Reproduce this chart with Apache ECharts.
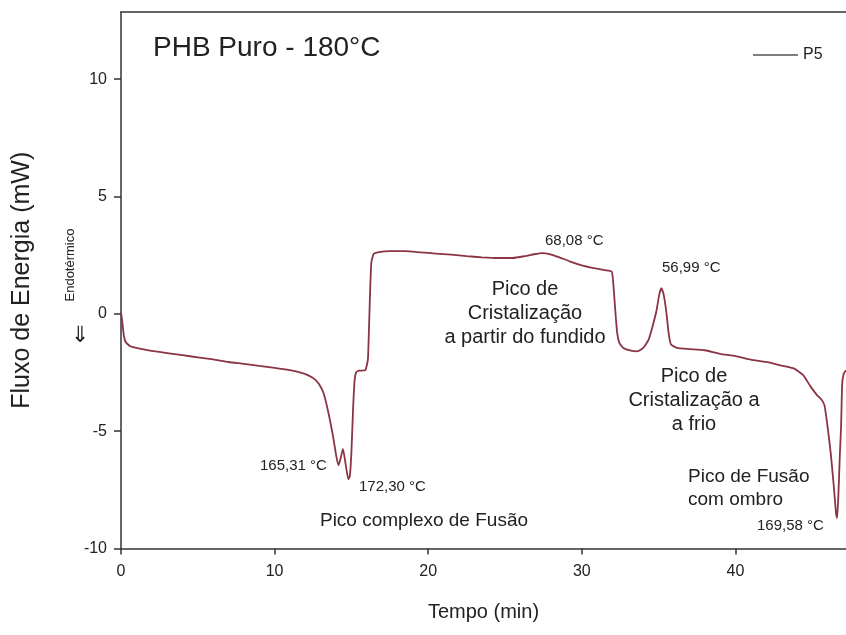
<!DOCTYPE html>
<html>
<head>
<meta charset="utf-8">
<script src="https://cdn.jsdelivr.net/npm/echarts@6/dist/echarts.min.js"></script>
<style>html,body{margin:0;padding:0;background:#fff}#c{width:846px;height:635px}</style>
</head>
<body>
<div id="c"></div>
<script>
// Time (min)
const time = [0.00,0.08,0.18,0.30,0.60,1.0,2.0,3.0,4.0,5.0,6.0,7.0,8.0,9.0,10.0,11.0,11.7,12.2,12.6,12.9,13.2,13.5,13.8,14.0,14.15,14.28,14.45,14.6,14.8,14.9,15.0,15.1,15.2,15.3,15.5,15.9,16.0,16.08,16.15,16.22,16.3,16.45,16.8,17.5,18.5,19.5,20.5,21.5,22.5,23.5,24.5,25.5,26.3,26.9,27.4,27.9,28.5,29.2,30.0,30.8,31.5,31.95,32.05,32.15,32.3,32.45,32.7,33.2,33.6,34.0,34.35,34.6,34.85,35.05,35.18,35.32,35.5,35.65,35.8,36.2,37.0,38.0,39.0,40.0,41.0,42.0,43.0,43.8,44.4,44.9,45.3,45.6,45.8,46.0,46.2,46.4,46.55,46.62,46.7,46.8,46.88,46.95,47.05,47.2];
// Fluxo de Energia (mW)
const flux = [0.05,-0.3,-0.9,-1.2,-1.38,-1.45,-1.58,-1.67,-1.76,-1.85,-1.94,-2.05,-2.13,-2.22,-2.3,-2.4,-2.5,-2.62,-2.78,-3.0,-3.4,-4.2,-5.2,-6.0,-6.45,-6.2,-5.75,-6.3,-7.05,-6.9,-5.9,-4.2,-2.9,-2.5,-2.42,-2.4,-2.2,-1.9,-0.5,1.0,2.2,2.55,2.63,2.67,2.67,2.62,2.57,2.52,2.46,2.41,2.38,2.38,2.46,2.54,2.59,2.55,2.42,2.24,2.07,1.95,1.86,1.8,1.3,0.4,-0.8,-1.25,-1.45,-1.57,-1.6,-1.45,-1.1,-0.55,0.1,0.85,1.1,0.85,0.1,-0.8,-1.3,-1.45,-1.5,-1.55,-1.7,-1.8,-1.95,-2.05,-2.2,-2.32,-2.6,-3.1,-3.45,-3.65,-3.9,-4.8,-5.9,-7.3,-8.5,-8.7,-7.8,-6.0,-4.8,-3.0,-2.55,-2.4];
const xTicks = [0,10,20,30,40];
const yTicks = [-10,-5,0,5,10];
const seriesName = 'P5';

const FONT = '"Liberation Sans", Arial, sans-serif';
const TXT = '#222';
const chart = echarts.init(document.getElementById('c'), null, {renderer:'canvas'});
const data = time.map((t,i)=>[t, flux[i]]);

function txt(x, y, s, size, align, extra){
  return Object.assign({type:'text', x:x, y:y, silent:true,
    style:{text:s, fill:TXT, font: size+'px '+FONT, align:align||'left', verticalAlign:'middle', lineHeight: Math.round(size*1.22)}}, extra||{});
}

chart.setOption({
  animation:false,
  backgroundColor:'#fff',
  grid:{left:121, right:0, top:12, bottom:86.4, containLabel:false},
  legend:{
    left:748, top:42, icon:'rect', itemWidth:45, itemHeight:1.5,
    textStyle:{fontFamily:FONT, fontSize:16, color:TXT},
    data:[{name:seriesName, itemStyle:{color:'#555'}}]
  },
  xAxis:[{
    type:'value', min:xTicks[0], max:47.2, interval:10,
    name:'Tempo (min)', nameLocation:'middle', nameGap:54,
    nameTextStyle:{fontFamily:FONT, fontSize:20, color:TXT},
    axisLine:{show:true, onZero:false, lineStyle:{color:'#333', width:1.5}},
    axisTick:{show:true, length:6, lineStyle:{color:'#333', width:1.5}},
    axisLabel:{fontFamily:FONT, fontSize:16, color:TXT, margin:15, showMaxLabel:false},
    splitLine:{show:false}
  },{
    type:'value', position:'top', min:0, max:47.2,
    axisLine:{show:true, onZero:false, lineStyle:{color:'#333', width:1.5}},
    axisTick:{show:false}, axisLabel:{show:false}, splitLine:{show:false}
  }],
  yAxis:{
    type:'value', min:yTicks[0], max:12.86, interval:5,
    name:'Fluxo de Energia (mW)', nameLocation:'middle', nameGap:86, nameRotate:90,
    nameTextStyle:{fontFamily:FONT, fontSize:25, color:TXT},
    axisLine:{show:true, onZero:false, lineStyle:{color:'#333', width:1.5}},
    axisTick:{show:true, length:7, lineStyle:{color:'#333', width:1.5}},
    axisLabel:{fontFamily:FONT, fontSize:16, color:TXT, margin:14, showMaxLabel:false},
    splitLine:{show:false}
  },
  series:[{
    name:seriesName, type:'line', data:data, showSymbol:false, smooth:0.15,
    lineStyle:{color:'#8a3444', width:1.8}, itemStyle:{color:'#8a3444'}
  }],
  graphic:[
    txt(153, 48, 'PHB Puro - 180°C', 28),
    txt(70, 265, 'Endotérmico', 13, 'center', {rotation:Math.PI/2}),
    txt(81, 334, '⇐', 22, 'center', {rotation:Math.PI/2}),
    txt(260, 466, '165,31 °C', 15),
    txt(359, 487, '172,30 °C', 15),
    txt(424, 521, 'Pico complexo de Fusão', 19, 'center'),
    txt(545, 241, '68,08 °C', 15),
    txt(525, 313, 'Pico de\nCristalização\na partir do fundido', 20, 'center'),
    txt(662, 268, '56,99 °C', 15),
    txt(694, 400, 'Pico de\nCristalização a\na frio', 20, 'center'),
    txt(688, 488, 'Pico de Fusão\ncom ombro', 19),
    txt(757, 526, '169,58 °C', 15)
  ]
});
</script>
</body>
</html>
